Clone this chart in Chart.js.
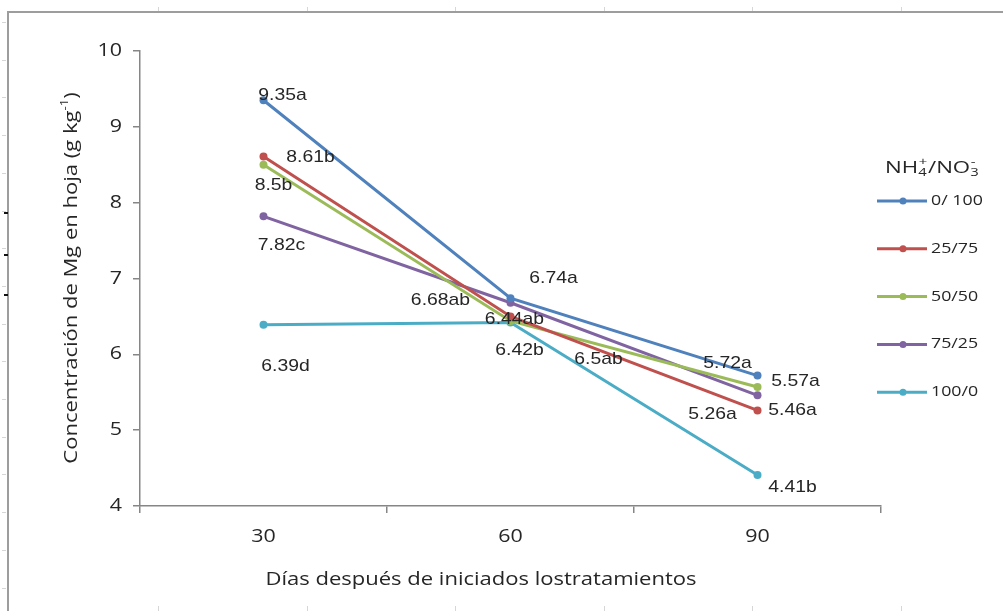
<!DOCTYPE html>
<html>
<head>
<meta charset="utf-8">
<script src="https://cdn.jsdelivr.net/npm/chart.js@4"></script>
<style>
  html, body { margin: 0; padding: 0; background: #fff; }
  #wrap { width: 1003px; height: 611px; position: relative; }
</style>
</head>
<body>
<div id="wrap"><canvas id="c" width="1003" height="611"></canvas></div>
<script>
// Days after treatments started (x categories)
const days = ['30', '60', '90'];

// NH4+/NO3- ratio treatments
const seriesNames = ['0/ 100', '25/75', '50/50', '75/25', '100/0'];

// Leaf Mg concentration (g kg-1)
const mg0_100  = [9.35, 6.74, 5.72];
const mg25_75  = [8.61, 6.5, 5.26];
const mg50_50  = [8.5, 6.44, 5.57];
const mg75_25  = [7.82, 6.68, 5.46];
const mg100_0  = [6.39, 6.42, 4.41];

// Mean separation letters
const let0_100 = ['a', 'a', 'a'];
const let25_75 = ['b', 'ab', 'a'];
const let50_50 = ['b', 'ab', 'a'];
const let75_25 = ['c', 'ab', 'a'];
const let100_0 = ['d', 'b', 'b'];

// Y axis tick values
const yTicks = [4, 5, 6, 7, 8, 9, 10];

// Label placement (pixel offset of text centre from its point)
const labelOffsets = [
  [[19, -5], [43, -20], [-30, -12]],
  [[47, 1], [88, 43], [-45, 4]],
  [[10, 21], [4, -2], [38, -6]],
  [[18, 29], [-70, -2], [35, 15]],
  [[22, 42], [9, 28], [35, 12]]
];

const colors = ['#4F81BD', '#C0504D', '#9BBB59', '#8064A2', '#4BACC6'];
const values = [mg0_100, mg25_75, mg50_50, mg75_25, mg100_0];
const letters = [let0_100, let25_75, let50_50, let75_25, let100_0];

const AXIS = '#868686';
const TEXT = '#262626';
const UI_FONT = '"Open Sans", "Noto Sans", sans-serif';
const LABEL_FONT = '"Liberation Sans", Arial, sans-serif';
const UI_STRETCH = 1.19;

// Draws text widened horizontally by factor sx
function wideText(ctx, text, x, y, sx, align) {
  ctx.save();
  ctx.translate(x, y);
  ctx.scale(sx, 1);
  ctx.textAlign = align;
  ctx.fillText(text, 0, 0);
  ctx.restore();
}

// Outer frame of the figure
const framePlugin = {
  id: 'frame',
  beforeDraw(chart) {
    const ctx = chart.ctx;
    ctx.save();
    ctx.fillStyle = '#fff';
    ctx.fillRect(0, 0, chart.width, chart.height);
    ctx.strokeStyle = '#9d9d9d';
    ctx.lineWidth = 2;
    ctx.beginPath();
    ctx.moveTo(8, chart.height);
    ctx.lineTo(8, 12);
    ctx.lineTo(chart.width, 12);
    ctx.stroke();
    // faint ruler marks
    ctx.strokeStyle = '#d6d6d6';
    ctx.lineWidth = 1;
    ctx.beginPath();
    for (let y = 22; y < chart.height; y += 37.7) {
      ctx.moveTo(2, Math.round(y) + 0.5);
      ctx.lineTo(6, Math.round(y) + 0.5);
    }
    for (let x = 158; x < chart.width; x += 148.6) {
      ctx.moveTo(Math.round(x) + 0.5, 7);
      ctx.lineTo(Math.round(x) + 0.5, 11);
      ctx.moveTo(Math.round(x) + 0.5, 606);
      ctx.lineTo(Math.round(x) + 0.5, 611);
    }
    ctx.stroke();
    ctx.fillStyle = '#111';
    [213, 255, 295].forEach(y => ctx.fillRect(4, y - 1, 4, 2));
    ctx.restore();
  }
};

// Tick labels, placed at the positions the scales report
const tickLabelsPlugin = {
  id: 'tickLabels',
  afterDraw(chart) {
    const ctx = chart.ctx;
    ctx.save();
    ctx.fillStyle = TEXT;
    ctx.textBaseline = 'middle';
    ctx.font = '18px ' + UI_FONT;
    const xs = chart.scales.x;
    xs.ticks.forEach((t, i) => {
      const lbl = t.label != null ? t.label : xs.getLabelForValue(t.value);
      wideText(ctx, String(lbl), xs.getPixelForTick(i), 537, UI_STRETCH, 'center');
    });
    const ys = chart.scales.y;
    ys.ticks.forEach((t, i) => {
      wideText(ctx, String(t.value), 122, ys.getPixelForValue(t.value), UI_STRETCH, 'right');
    });
    ctx.restore();
  }
};

// Axis titles (with superscript unit)
const titlesPlugin = {
  id: 'titles',
  afterDraw(chart) {
    const ctx = chart.ctx;
    ctx.save();
    ctx.fillStyle = TEXT;
    ctx.textBaseline = 'middle';
    ctx.font = '18.5px ' + UI_FONT;
    wideText(ctx, 'Días después de iniciados lostratamientos', 481, 580, UI_STRETCH, 'center');
    // y title, rotated
    ctx.translate(72, 278);
    ctx.rotate(-Math.PI / 2);
    ctx.scale(UI_STRETCH, 1);
    const main = 'Concentración de Mg en hoja (g kg';
    const sup = '-1';
    const tail = ')';
    ctx.font = '18.5px ' + UI_FONT;
    const wMain = ctx.measureText(main).width;
    const wTail = ctx.measureText(tail).width;
    ctx.font = '11px ' + UI_FONT;
    const wSup = ctx.measureText(sup).width;
    let x = -(wMain + wSup + wTail) / 2;
    ctx.textAlign = 'left';
    ctx.font = '18.5px ' + UI_FONT;
    ctx.fillText(main, x, 0);
    x += wMain;
    ctx.font = '11px ' + UI_FONT;
    ctx.fillText(sup, x, -7);
    x += wSup;
    ctx.font = '18.5px ' + UI_FONT;
    ctx.fillText(tail, x, 0);
    ctx.restore();
  }
};

// Value + letter labels next to each point
const pointLabelsPlugin = {
  id: 'pointLabels',
  afterDatasetsDraw(chart) {
    const ctx = chart.ctx;
    ctx.save();
    ctx.font = '17px ' + LABEL_FONT;
    ctx.fillStyle = TEXT;
    ctx.textBaseline = 'middle';
    chart.data.datasets.forEach((ds, di) => {
      const meta = chart.getDatasetMeta(di);
      meta.data.forEach((pt, i) => {
        const off = labelOffsets[di][i];
        wideText(ctx, String(ds.data[i]) + letters[di][i], pt.x + off[0], pt.y + off[1], 1.14, 'center');
      });
    });
    ctx.restore();
  }
};

// Legend at the right with subscripted/superscripted title
const legendPlugin = {
  id: 'sideLegend',
  afterDraw(chart) {
    const ctx = chart.ctx;
    ctx.save();
    ctx.fillStyle = TEXT;
    ctx.textBaseline = 'middle';
    ctx.textAlign = 'left';
    // title: NH4+/NO3-
    const big = '16.5px ' + UI_FONT;
    const small = '11px ' + UI_FONT;
    const w = (t, f) => { ctx.font = f; return ctx.measureText(t).width; };
    const segs = [
      { t: 'NH', f: big, dy: 0 },
      { t: '4', f: small, dy: 5, stack: '+' },
      { t: '/NO', f: big, dy: 0 },
      { t: '3', f: small, dy: 5, stack: '-' }
    ];
    let total = 0;
    segs.forEach(s => {
      total += s.stack ? Math.max(w(s.t, small), w(s.stack, small)) + 1 : w(s.t, s.f);
    });
    const sx = 95 / total;
    ctx.save();
    ctx.translate(885, 168);
    ctx.scale(sx, 1);
    let x = 0;
    segs.forEach(s => {
      ctx.font = s.f;
      ctx.fillText(s.t, x, s.dy);
      if (s.stack) {
        ctx.fillText(s.stack, x + 0.5, -6);
        x += Math.max(w(s.t, small), w(s.stack, small)) + 1;
      } else {
        x += w(s.t, s.f);
      }
    });
    ctx.restore();

    chart.data.datasets.forEach((ds, i) => {
      const y = 201 + i * 47.8;
      ctx.strokeStyle = ds.borderColor;
      ctx.lineWidth = 3;
      ctx.beginPath();
      ctx.moveTo(877, y);
      ctx.lineTo(927, y);
      ctx.stroke();
      ctx.fillStyle = ds.borderColor;
      ctx.beginPath();
      ctx.arc(903, y, 3.5, 0, Math.PI * 2);
      ctx.fill();
      ctx.fillStyle = TEXT;
      ctx.font = '14px ' + UI_FONT;
      wideText(ctx, ds.label, 931, y, 1.27, 'left');
    });
    ctx.restore();
  }
};

new Chart(document.getElementById('c'), {
  type: 'line',
  data: {
    labels: days,
    datasets: seriesNames.map((name, i) => ({
      label: name,
      data: values[i],
      borderColor: colors[i],
      backgroundColor: colors[i],
      borderWidth: 3,
      pointRadius: 4,
      pointBorderWidth: 0,
      pointBackgroundColor: colors[i],
      tension: 0,
      fill: false
    }))
  },
  options: {
    responsive: false,
    animation: false,
    events: [],
    layout: { padding: { top: 51, right: 122, left: 0, bottom: 0 } },
    plugins: {
      legend: { display: false },
      tooltip: { enabled: false },
      title: { display: false }
    },
    scales: {
      x: {
        type: 'category',
        offset: true,
        grid: {
          display: true, offset: true, drawOnChartArea: false, drawTicks: true,
          tickLength: 7, color: AXIS, lineWidth: 1.5
        },
        border: { display: true, color: AXIS, width: 1.5 },
        ticks: { display: false },
        afterFit(s) { s.height = 105; }
      },
      y: {
        min: yTicks[0],
        max: yTicks[yTicks.length - 1],
        afterBuildTicks(s) { s.ticks = yTicks.map(v => ({ value: v })); },
        grid: {
          display: true, drawOnChartArea: false, drawTicks: true,
          tickLength: 7, color: AXIS, lineWidth: 1.5
        },
        border: { display: true, color: AXIS, width: 1.5 },
        ticks: { display: false },
        afterFit(s) { s.width = 140; }
      }
    }
  },
  plugins: [framePlugin, pointLabelsPlugin, legendPlugin, titlesPlugin, tickLabelsPlugin]
});
</script>
</body>
</html>
